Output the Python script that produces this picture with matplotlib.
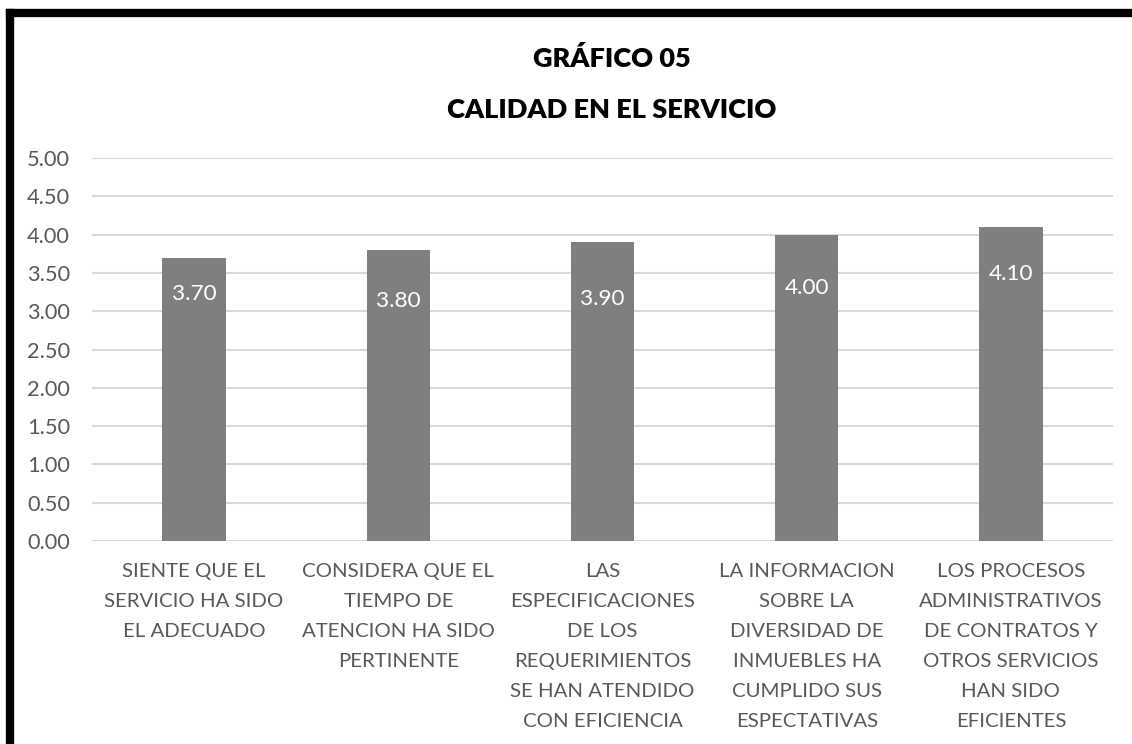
import matplotlib
matplotlib.use("Agg")
import matplotlib.pyplot as plt
from matplotlib.lines import Line2D

categories = [
    "SIENTE QUE EL\nSERVICIO HA SIDO\nEL ADECUADO",
    "CONSIDERA QUE EL\nTIEMPO DE\nATENCION HA SIDO\nPERTINENTE",
    "LAS\nESPECIFICACIONES\nDE LOS\nREQUERIMIENTOS\nSE HAN ATENDIDO\nCON EFICIENCIA",
    "LA INFORMACION\nSOBRE LA\nDIVERSIDAD DE\nINMUEBLES HA\nCUMPLIDO SUS\nESPECTATIVAS",
    "LOS PROCESOS\nADMINISTRATIVOS\nDE CONTRATOS Y\nOTROS SERVICIOS\nHAN SIDO\nEFICIENTES",
]
values = [3.70, 3.80, 3.90, 4.00, 4.10]
yticks = [0, 0.5, 1, 1.5, 2, 2.5, 3, 3.5, 4, 4.5, 5]
title = "GRÁFICO 05\nCALIDAD EN EL SERVICIO"

plt.rcParams['font.family'] = ['Lato', 'DejaVu Sans']

W, H = 1132, 744
fig = plt.figure(figsize=(W / 100, H / 100), dpi=100)
ax = fig.add_axes([92 / W, 1 - 541 / H, (1113 - 92) / W, (541 - 158) / H])

x = list(range(len(values)))
bars = ax.bar(x, values, width=0.31, color="#7f7f7f", zorder=3)
ax.set_xlim(-0.5, len(values) - 0.5)
ax.set_ylim(0, 5)
ax.set_yticks(yticks)
ax.set_yticklabels([f"{v:.2f}" for v in yticks], fontsize=15.7, color="#595959")
ax.set_xticks(x)
ax.set_xticklabels(categories, fontsize=14.7, color="#595959", linespacing=1.92, va="top")
ax.tick_params(axis="both", length=0)
ax.tick_params(axis="y", pad=15.8)
ax.tick_params(axis="x", pad=16)
ax.grid(axis="y", color="#d9d9d9", linewidth=1.5, zorder=0)
for s in ax.spines.values():
    s.set_visible(False)

# manual label drop below bar top (as in the original chart)
label_drop = [0.48, 0.67, 0.74, 0.70, 0.61]
for b, v, d in zip(bars, values, label_drop):
    ax.text(b.get_x() + b.get_width() / 2, v - d, f"{v:.2f}", ha="center", va="center",
            color="white", fontsize=16.2)

for line, yb in zip(title.split("\n"), [67, 118]):
    fig.text(612 / W, 1 - yb / H, line, ha="center", va="baseline", fontsize=19.5,
             fontweight="heavy", color="black")

# thick black frame on top and left
fig.add_artist(Line2D([10 / W, 10 / W], [0, 1 - 13 / H], color="black", linewidth=6,
                      transform=fig.transFigure, solid_capstyle="projecting"))
fig.add_artist(Line2D([10 / W, 1], [1 - 13 / H, 1 - 13 / H], color="black", linewidth=6,
                      transform=fig.transFigure, solid_capstyle="projecting"))

fig.savefig("out.png", dpi=100)
